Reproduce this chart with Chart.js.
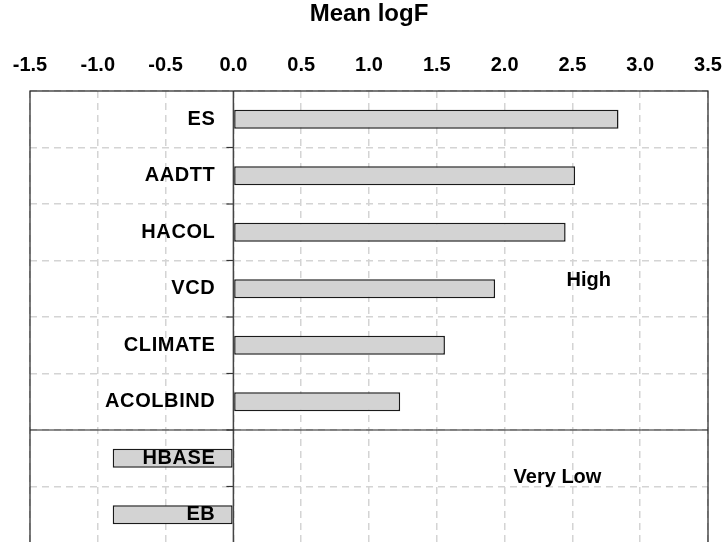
<!DOCTYPE html>
<html>
<head>
<meta charset="utf-8">
<script src="https://cdn.jsdelivr.net/npm/chart.js@4"></script>
<style>
  body { margin: 0; overflow: hidden; background: #fff; }
  #wrap { width: 725px; height: 546px; }
</style>
</head>
<body>
<div id="wrap"><canvas id="chart"></canvas></div>
<script>
const categories = ['ES', 'AADTT', 'HACOL', 'VCD', 'CLIMATE', 'ACOLBIND', 'HBASE', 'EB'];
const meanLogF = [2.84, 2.52, 2.45, 1.93, 1.56, 1.23, -0.89, -0.89];
const xTicks = [-1.5, -1.0, -0.5, 0.0, 0.5, 1.0, 1.5, 2.0, 2.5, 3.0, 3.5];
const groupNames = ['High', 'Very Low'];
const firstVeryLow = 6; // index where the "Very Low" group starts

const FONT = "'Liberation Sans', Arial, sans-serif";
const gridColor = '#d4d4d4';

// labels inside the plot, zero line, frame and group separator
const overlay = {
  id: 'overlay',
  afterDatasetsDraw(chart) {
    const ctx = chart.ctx;
    const a = chart.chartArea;
    const x = chart.scales.x, y = chart.scales.y;
    const x0 = x.getPixelForValue(0);
    const band = y.getPixelForValue(1) - y.getPixelForValue(0);
    ctx.save();

    // small ticks on the zero line at category boundaries
    ctx.strokeStyle = '#333';
    ctx.lineWidth = 1.2;
    for (let i = 1; i < categories.length; i++) {
      const yy = y.getPixelForValue(i) - band / 2;
      ctx.beginPath();
      ctx.moveTo(x0 - 7, yy);
      ctx.lineTo(x0, yy);
      ctx.stroke();
    }

    // zero line
    ctx.strokeStyle = '#444';
    ctx.lineWidth = 1.5;
    ctx.beginPath();
    ctx.moveTo(x0, a.top);
    ctx.lineTo(x0, a.bottom);
    ctx.stroke();

    // separator between groups
    const ySep = y.getPixelForValue(firstVeryLow) - band / 2;
    ctx.strokeStyle = '#222';
    ctx.lineWidth = 1.2;
    ctx.beginPath();
    ctx.moveTo(a.left, ySep);
    ctx.lineTo(a.right, ySep);
    ctx.stroke();

    // frame
    ctx.strokeRect(a.left, a.top, a.right - a.left, a.bottom - a.top);

    // category names
    ctx.fillStyle = '#000';
    ctx.font = 'bold 20px ' + FONT;
    ctx.letterSpacing = '0.6px';
    ctx.textAlign = 'right';
    ctx.textBaseline = 'middle';
    categories.forEach((c, i) => {
      ctx.fillText(c, x0 - 18, y.getPixelForValue(i));
    });

    // group names
    ctx.letterSpacing = '0px';
    ctx.textAlign = 'center';
    ctx.fillText(groupNames[0], x.getPixelForValue(2.62), y.getPixelForValue(3) - 8);
    ctx.fillText(groupNames[1], x.getPixelForValue(2.39), y.getPixelForValue(firstVeryLow) + band / 2 - 9);
    ctx.restore();
  }
};

new Chart(document.getElementById('chart'), {
  type: 'bar',
  data: {
    labels: categories,
    datasets: [{
      data: meanLogF,
      backgroundColor: '#d3d3d3',
      borderColor: '#1a1a1a',
      borderWidth: 1.5,
      borderSkipped: false,
      barPercentage: 0.34,
      categoryPercentage: 1
    }]
  },
  options: {
    indexAxis: 'y',
    responsive: true,
    maintainAspectRatio: false,
    animation: false,
    layout: { padding: { left: 30, right: 17, top: 0, bottom: 3 } },
    plugins: {
      legend: { display: false },
      tooltip: { enabled: false },
      title: {
        display: true,
        text: 'Mean logF',
        color: '#000',
        font: { family: FONT, size: 24, weight: 'bold' },
        padding: { top: 0, bottom: 0 }
      }
    },
    scales: {
      x: {
        position: 'top',
        min: -1.5,
        max: 3.5,
        afterBuildTicks: s => { s.ticks = xTicks.map(v => ({ value: v })); },
        afterFit: s => {
          s.height = 91 - 28.8;
          s.paddingLeft = 0;
          s.paddingRight = 0;
        },
        ticks: {
          callback: v => Number(v).toFixed(1),
          color: '#000',
          font: { family: FONT, size: 20, weight: 'bold' },
          padding: 14,
          maxRotation: 0,
          autoSkip: false
        },
        grid: { color: gridColor, lineWidth: 1.5, drawTicks: false },
        border: { display: false, dash: [7, 5] }
      },
      y: {
        ticks: { display: false },
        afterFit: s => { s.width = 0; },
        grid: { color: gridColor, lineWidth: 1.5, drawTicks: false, offset: true },
        border: { display: false, dash: [7, 5] }
      }
    }
  },
  plugins: [overlay]
});
</script>
</body>
</html>
